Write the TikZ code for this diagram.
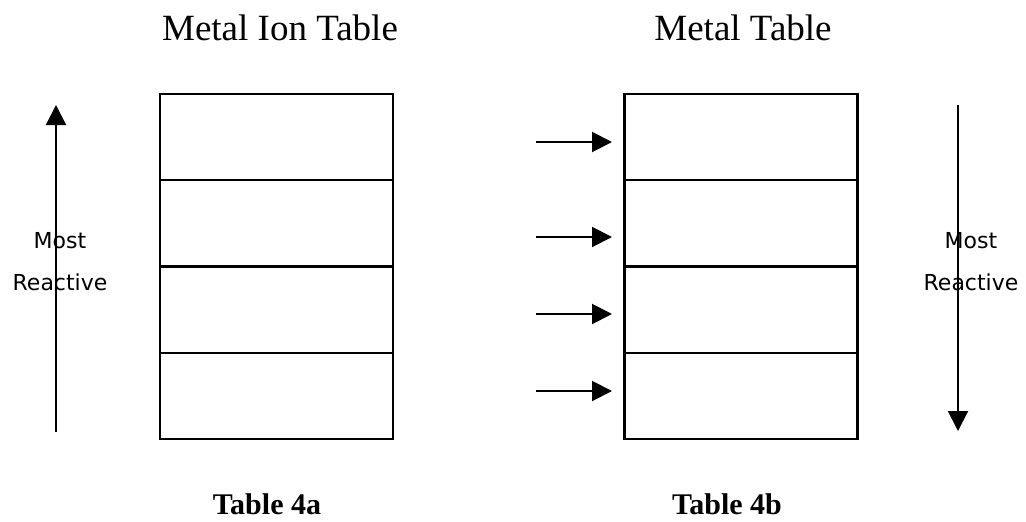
\documentclass[tikz,border=0pt]{standalone}
\usepackage{fontspec}
\setmainfont{Liberation Serif}
\setsansfont{DejaVu Sans}
\usetikzlibrary{arrows.meta,positioning}

\tikzset{
  cell/.style={draw, line width=2.4pt, minimum width=233pt, minimum height=86.25pt, inner sep=0pt, outer sep=0pt},
  react/.style={arrows={-Triangle[length=20pt,width=20pt]}, line width=2pt},
  title/.style={anchor=base, font=\fontsize{37}{40}\selectfont},
  caption/.style={anchor=base, font=\bfseries\fontsize{30}{34}\selectfont},
  side/.style={anchor=base, font=\sffamily\fontsize{22}{26}\selectfont}
}

\begin{document}
\begin{tikzpicture}[x=1pt, y=-1pt] %metal ion table and metal table
\useasboundingbox (0,0) rectangle (1026,522);
% titles
\node[title] (iontitle) at (280,40) {Metal Ion Table};
\node[title] (mettitle) at (743,40) {Metal Table};
% left table
\node[cell, anchor=north] (a1) at (276.5,94) {};
\node[cell, below=0pt of a1] (a2) {};
\node[cell, below=0pt of a2] (a3) {};
\node[cell, below=0pt of a3] (a4) {};
% right table
\node[cell, anchor=north] (b1) at (741,94) {};
\node[cell, below=0pt of b1] (b2) {};
\node[cell, below=0pt of b2] (b3) {};
\node[cell, below=0pt of b3] (b4) {};
% captions
\node[caption] (capa) at (267,514) {Table 4a};
\node[caption] (capb) at (727,514) {Table 4b};
% reactivity arrows
\coordinate (lbot) at (56,432);
\coordinate (ltop) at (56,105);
\draw[react] (lbot) -- (ltop);
\coordinate (rtop) at (958,105);
\coordinate (rbot) at (958,431);
\draw[react] (rtop) -- (rbot);
\node[side] (lmost) at (60,248) {Most};
\node[side] (lreact) at (60,290) {Reactive};
\node[side] (rmost) at (971,248) {Most};
\node[side] (rreact) at (971,290) {Reactive};
% arrows into metal table
\foreach \y [count=\i] in {142,237,314,391}{
  \coordinate (s\i) at (536,\y);
  \coordinate (t\i) at (612,\y);
  \draw[react] (s\i) -- (t\i);
}
\end{tikzpicture}
\end{document}
